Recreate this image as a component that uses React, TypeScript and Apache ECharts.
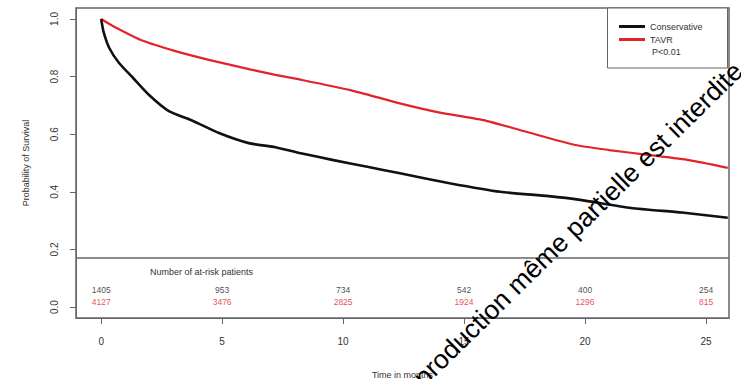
import React, { useEffect, useRef } from "react";
import * as echarts from "echarts";

const monthsConservative = [0, 0.1, 0.33, 0.74, 1.32, 1.98, 2.8, 3.8, 4.87, 6.1, 7.2, 8.2, 9.6, 11.0, 12.3, 14.4, 16.5, 18.5, 19.8, 21.9, 24.0, 25.9];
const survivalConservative = [1.0, 0.955, 0.9, 0.847, 0.795, 0.736, 0.68, 0.646, 0.604, 0.569, 0.555, 0.535, 0.51, 0.487, 0.465, 0.43, 0.4, 0.385, 0.372, 0.344, 0.328, 0.31];

const monthsTAVR = [0, 0.5, 1.73, 3.0, 4.45, 6.15, 7.2, 8.2, 10.3, 12.3, 14.0, 15.8, 17.5, 19.6, 21.0, 22.6, 24.3, 25.9];
const survivalTAVR = [1.0, 0.975, 0.924, 0.89, 0.858, 0.825, 0.806, 0.79, 0.753, 0.708, 0.675, 0.649, 0.61, 0.5625, 0.545, 0.528, 0.51, 0.483];

const riskTimes = [0, 5, 10, 15, 20, 25];
const riskConservative = [1405, 953, 734, 542, 400, 254];
const riskTAVR = [4127, 3476, 2825, 1924, 1296, 815];

const xTicks = [0, 5, 10, 15, 20, 25];
const yTicks = [0, 0.2, 0.4, 0.6, 0.8, 1.0];

const FONT = "Liberation Sans, Arial, Helvetica, sans-serif";

export default function App() {
  const ref = useRef<HTMLDivElement>(null);
  useEffect(() => {
    if (!ref.current) return;
    const chart = echarts.init(ref.current, undefined, { renderer: "svg" });
    const angle = (44.5 * Math.PI) / 180;
    chart.setOption({
      animation: false,
      backgroundColor: "#fff",
      grid: {
        left: 76,
        top: 8,
        right: 12,
        bottom: 61,
        containLabel: false,
        outerBoundsMode: "none",
        show: true,
        borderColor: "#666",
        borderWidth: 1.5,
        backgroundColor: "transparent",
      },
      legend: {
        data: ["Conservative", "TAVR"],
        orient: "vertical",
        left: 614,
        top: 17,
        itemWidth: 26,
        itemHeight: 3,
        itemGap: 4,
        icon: "rect",
        z: 20,
        textStyle: { fontSize: 9, color: "#333", fontFamily: FONT },
      },
      xAxis: {
        type: "value",
        min: -1.04,
        max: 25.95,
        name: "Time in months",
        nameLocation: "middle",
        nameGap: 52,
        nameTextStyle: { fontSize: 9, color: "#333", fontFamily: FONT },
        axisLine: { show: true, onZero: false, lineStyle: { color: "#666", width: 1 } },
        axisTick: { show: true, customValues: xTicks, length: 6, lineStyle: { color: "#666" } },
        axisLabel: { customValues: xTicks, margin: 18, fontSize: 10, color: "#333", fontFamily: FONT },
        splitLine: { show: false },
      },
      yAxis: {
        type: "value",
        min: -0.038,
        max: 1.038,
        name: "Probability of Survival",
        nameLocation: "middle",
        nameGap: 46,
        nameRotate: 90,
        nameTextStyle: { fontSize: 9, color: "#333", fontFamily: FONT },
        axisLine: { show: true, onZero: false, lineStyle: { color: "#666", width: 1 } },
        axisTick: { show: true, customValues: yTicks, length: 6, lineStyle: { color: "#666" } },
        axisLabel: {
          customValues: yTicks,
          rotate: 90,
          margin: 17,
          fontSize: 10,
          color: "#333",
          fontFamily: FONT,
          formatter: (v: number) => v.toFixed(1),
        },
        splitLine: { show: false },
      },
      series: [
        {
          name: "Conservative",
          type: "line",
          showSymbol: false,
          symbol: "none",
          smooth: 0.2,
          color: "#111",
          lineStyle: { color: "#111", width: 2.6 },
          data: monthsConservative.map((m, i) => [m, survivalConservative[i]]),
          markLine: {
            silent: true,
            symbol: "none",
            label: { show: false },
            lineStyle: { color: "#666", width: 1.5, type: "solid" },
            data: [{ yAxis: 0.167 }],
          },
          z: 3,
        },
        {
          name: "TAVR",
          type: "line",
          showSymbol: false,
          symbol: "none",
          smooth: 0.2,
          color: "#e3232b",
          lineStyle: { color: "#e3232b", width: 2.2 },
          data: monthsTAVR.map((m, i) => [m, survivalTAVR[i]]),
          z: 2,
        },
        {
          name: "risk-conservative",
          type: "scatter",
          symbolSize: 0,
          silent: true,
          data: riskTimes.map((t, i) => [t, 0.06, riskConservative[i]]),
          label: {
            show: true,
            position: "inside",
            formatter: (p: any) => String(p.value[2]),
            fontSize: 8.5,
            color: "#222",
            fontFamily: FONT,
          },
        },
        {
          name: "risk-tavr",
          type: "scatter",
          symbolSize: 0,
          silent: true,
          data: riskTimes.map((t, i) => [t, 0.019, riskTAVR[i]]),
          label: {
            show: true,
            position: "inside",
            formatter: (p: any) => String(p.value[2]),
            fontSize: 8.5,
            color: "#e3232b",
            fontFamily: FONT,
          },
        },
      ],
      graphic: [
        {
          type: "rect",
          shape: { x: 607.5, y: 8, width: 120, height: 60 },
          style: { fill: "#fff", stroke: "#666", lineWidth: 1 },
          z: 5,
        },
        {
          type: "text",
          x: 652,
          y: 52,
          style: { text: "P<0.01", fontSize: 9, fill: "#333", fontFamily: FONT, verticalAlign: "middle" },
          z: 120,
        },
        {
          type: "text",
          x: 150,
          y: 272,
          style: { text: "Number of at-risk patients", fontSize: 9, fill: "#333", fontFamily: FONT, verticalAlign: "middle" },
          z: 120,
        },
        {
          type: "text",
          x: 566,
          y: 236,
          rotation: angle,
          style: {
            text: "Reproduction même partielle est interdite",
            fontSize: 26.5,
            fill: "#000",
            fontFamily: FONT,
            align: "center",
            verticalAlign: "middle",
          },
          z: 200,
        },
      ],
    });
    return () => chart.dispose();
  }, []);
  return <div ref={ref} style={{ position: "fixed", left: 0, top: 0, width: 741, height: 379 }} />;
}
